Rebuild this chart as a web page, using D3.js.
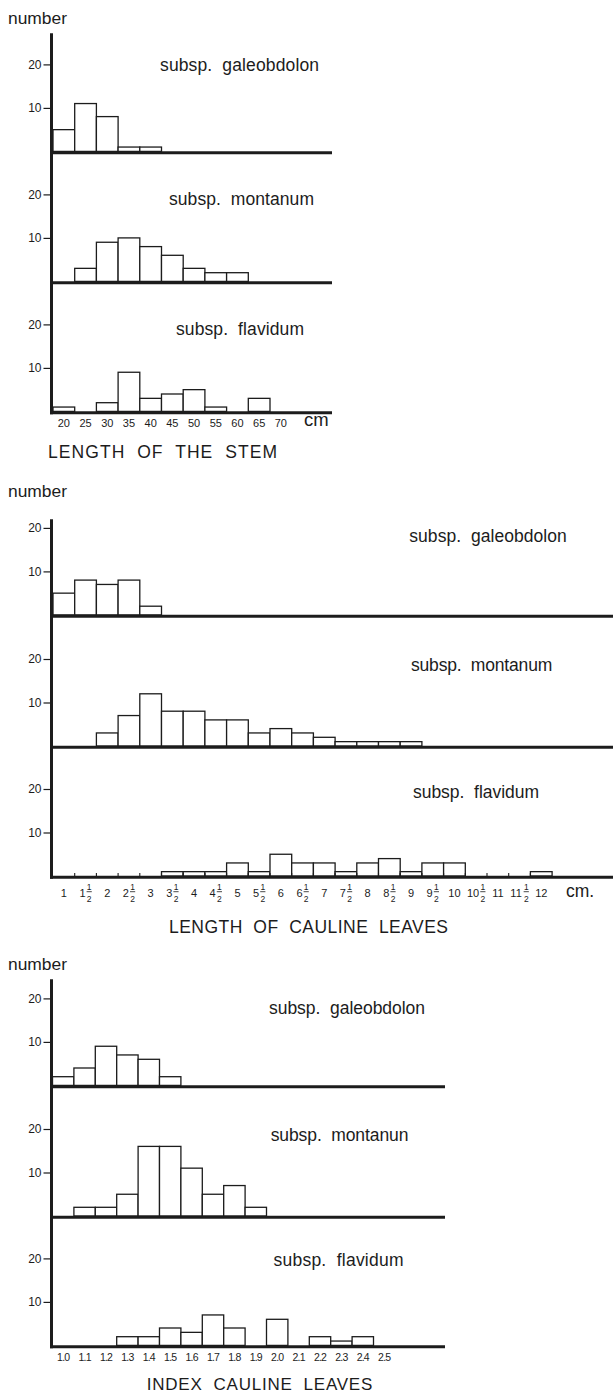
<!DOCTYPE html>
<html><head><meta charset="utf-8">
<script src="https://cdn.jsdelivr.net/npm/d3@7"></script>
<style>
body{margin:0;background:#fff}
svg{display:block}
text{font-family:"Liberation Sans",Arial,Helvetica,sans-serif;fill:#1c1c1c}
</style>
</head><body>
<svg id="c" width="613" height="1394"></svg>
<script>
// ---------- DATA ----------
const stemBins = ["20","25","30","35","40","45","50","55","60","65","70"];
const stemGaleobdolon = [5,11,8,1,1,0,0,0,0,0,0];
const stemMontanum    = [0,3,9,10,8,6,3,2,2,0,0];
const stemFlavidum    = [1,0,2,9,3,4,5,1,0,3,0];

const leafBins = ["1","1½","2","2½","3","3½","4","4½","5","5½","6","6½","7","7½","8","8½","9","9½","10","10½","11","11½","12"];
const leafGaleobdolon = [5,8,7,8,2,0,0,0,0,0,0,0,0,0,0,0,0,0,0,0,0,0,0];
const leafMontanum    = [0,0,3,7,12,8,8,6,6,3,4,3,2,1,1,1,1,0,0,0,0,0,0];
const leafFlavidum    = [0,0,0,0,0,1,1,1,3,1,5,3,3,1,3,4,1,3,3,0,0,0,1];

const indexBins = ["1.0","1.1","1.2","1.3","1.4","1.5","1.6","1.7","1.8","1.9","2.0","2.1","2.2","2.3","2.4","2.5"];
const indexGaleobdolon = [2,4,9,7,6,2,0,0,0,0,0,0,0,0,0,0];
const indexMontanun    = [0,2,2,5,16,16,11,5,7,2,0,0,0,0,0,0];
const indexFlavidum    = [0,0,0,2,2,4,3,7,4,0,6,0,2,1,2,0];

const namesStem  = ["subsp.  galeobdolon","subsp.  montanum","subsp.  flavidum"];
const namesLeaf  = ["subsp.  galeobdolon","subsp.  montanum","subsp.  flavidum"];
const namesIndex = ["subsp.  galeobdolon","subsp.  montanun","subsp.  flavidum"];

const yTicks = [10, 20];
const titles = ["LENGTH  OF  THE  STEM","LENGTH  OF  CAULINE  LEAVES","INDEX  CAULINE  LEAVES"];
const unitLabels = ["cm","cm.",""];
const yLabel = "number";

// ---------- LAYOUT ----------
const svg = d3.select("#c");
const INK = "#1c1c1c";
const UNIT = 4.35;
const AXIS_X = 51.5;

const panels = [
  {bins: stemBins, series:[stemGaleobdolon, stemMontanum, stemFlavidum], names: namesStem,
   title: titles[0], unit: unitLabels[0],
   numberY:24, axisTop:33.3, baselines:[152.7,282.7,412.7], xEnd:332, x0:53, step:21.7, labelY:426.5,
   subsp:[[160,70.7,159],[169,205,145],[176,335,128]], titlePos:[48,458.3,229,17.5], unitPos:[304,425.5,18.5],
   labelStyle:"plain", tinyTicks:false},
  {bins: leafBins, series:[leafGaleobdolon, leafMontanum, leafFlavidum], names: namesLeaf,
   title: titles[1], unit: unitLabels[1],
   numberY:497, axisTop:519.3, baselines:[616.2,747.3,877.3], xEnd:613, x0:53, step:21.7, labelY:897.3,
   subsp:[[409.3,542.3,157.4],[411,670.7,141.3],[413,797.5,126]], titlePos:[169,932.7,279,17.5], unitPos:[566,897,17.5],
   labelStyle:"fraction", tinyTicks:true},
  {bins: indexBins, series:[indexGaleobdolon, indexMontanun, indexFlavidum], names: namesIndex,
   title: titles[2], unit: unitLabels[2],
   numberY:970, axisTop:979.3, baselines:[1086.7,1217.3,1346.7], xEnd:445, x0:52.5, step:21.4, labelY:1360.7,
   subsp:[[269,1014.3,156],[270.7,1140.7,137.7],[273.5,1265.7,130]], titlePos:[146.7,1389.5,225.6,17], unitPos:null,
   labelStyle:"narrow", tinyTicks:false}
];

panels.forEach(p => {
  const g = svg.append("g");
  const x = d3.scaleBand().domain(p.bins).range([p.x0, p.x0 + p.bins.length * p.step]).padding(0);

  // "number" label
  g.append("text").attr("x", 8).attr("y", p.numberY).attr("font-size", 16)
    .attr("textLength", 59).attr("lengthAdjust", "spacingAndGlyphs").text(yLabel);

  p.series.forEach((vals, si) => {
    const base = p.baselines[si];
    const zero = base - 1.3;
    const y = d3.scaleLinear().domain([0, 20]).range([zero, zero - 20 * UNIT]);
    const sg = g.append("g");

    // bars
    sg.selectAll("rect.bar").data(p.bins.map((b, i) => ({b, v: vals[i]})).filter(d => d.v > 0))
      .join("rect").attr("class", "bar")
      .attr("x", d => x(d.b)).attr("width", x.bandwidth())
      .attr("y", d => y(d.v)).attr("height", d => zero - y(d.v))
      .attr("fill", "#fff").attr("stroke", INK).attr("stroke-width", 1.3);

    // tiny bin-boundary ticks on the baseline
    if (p.tinyTicks && si === p.series.length - 1) {
      sg.selectAll("line.tt").data(p.bins.slice(1))
        .join("line").attr("class", "tt")
        .attr("x1", d => x(d)).attr("x2", d => x(d))
        .attr("y1", zero).attr("y2", zero - 3)
        .attr("stroke", INK).attr("stroke-width", 1.1);
    }

    // baseline
    sg.append("line").attr("x1", AXIS_X - 1.5).attr("x2", p.xEnd)
      .attr("y1", base).attr("y2", base).attr("stroke", INK).attr("stroke-width", 3);

    // y ticks
    const ax = sg.append("g").attr("transform", `translate(${AXIS_X - 1},0)`)
      .call(d3.axisLeft(y).tickValues(yTicks).tickSize(7).tickPadding(2).tickFormat(d3.format("d")));
    ax.select(".domain").remove();
    ax.selectAll(".tick line").attr("stroke", INK).attr("stroke-width", 1.2);
    ax.selectAll(".tick text").attr("font-size", 12).attr("fill", INK)
      .attr("font-family", '"Liberation Sans",Arial,sans-serif');

    // subspecies label
    const [sx, sy, sw] = p.subsp[si];
    sg.append("text").attr("x", sx).attr("y", sy).attr("font-size", 17.5)
      .style("white-space", "pre").attr("textLength", sw).attr("lengthAdjust", "spacing")
      .text(p.names[si]);
  });

  // y axis line
  g.append("line").attr("x1", AXIS_X).attr("x2", AXIS_X)
    .attr("y1", p.axisTop).attr("y2", p.baselines[p.baselines.length - 1] + 1.5)
    .attr("stroke", INK).attr("stroke-width", 3);

  // x labels
  const lg = g.append("g");
  p.bins.forEach(b => {
    const cx = x(b) + x.bandwidth() / 2;
    if (p.labelStyle === "fraction" && b.endsWith("½")) {
      const whole = b.slice(0, -1);
      const wholeW = whole.length * 6.1;
      const total = wholeW + 1.2 + 5;
      const start = cx - total / 2;
      const fx = start + wholeW + 1.2 + 2.5;
      const t = lg.append("text").attr("font-size", 11);
      t.append("tspan").attr("x", start).attr("y", p.labelY).text(whole);
      t.append("tspan").attr("x", fx).attr("y", p.labelY - 7.8).attr("font-size", 8.5)
        .attr("text-anchor", "middle").text("1");
      t.append("tspan").attr("x", fx).attr("y", p.labelY + 4.2).attr("font-size", 8.5)
        .attr("text-anchor", "middle").text("2");
      lg.append("line").attr("x1", fx - 2.6).attr("x2", fx + 2.6)
        .attr("y1", p.labelY - 5.6).attr("y2", p.labelY - 5.6)
        .attr("stroke", INK).attr("stroke-width", 0.8);
    } else {
      const t = lg.append("text").attr("x", cx).attr("y", p.labelY)
        .attr("text-anchor", "middle").text(b);
      if (p.labelStyle === "narrow") t.attr("font-size", 10.5).attr("letter-spacing", -0.8);
      else t.attr("font-size", 11);
    }
  });

  if (p.unitPos) {
    g.append("text").attr("x", p.unitPos[0]).attr("y", p.unitPos[1]).attr("font-size", p.unitPos[2])
      .text(p.unit);
  }

  // title
  g.append("text").attr("x", p.titlePos[0]).attr("y", p.titlePos[1]).attr("font-size", p.titlePos[3])
    .style("white-space", "pre").attr("textLength", p.titlePos[2]).attr("lengthAdjust", "spacing")
    .text(p.title);
});
</script>
</body></html>
